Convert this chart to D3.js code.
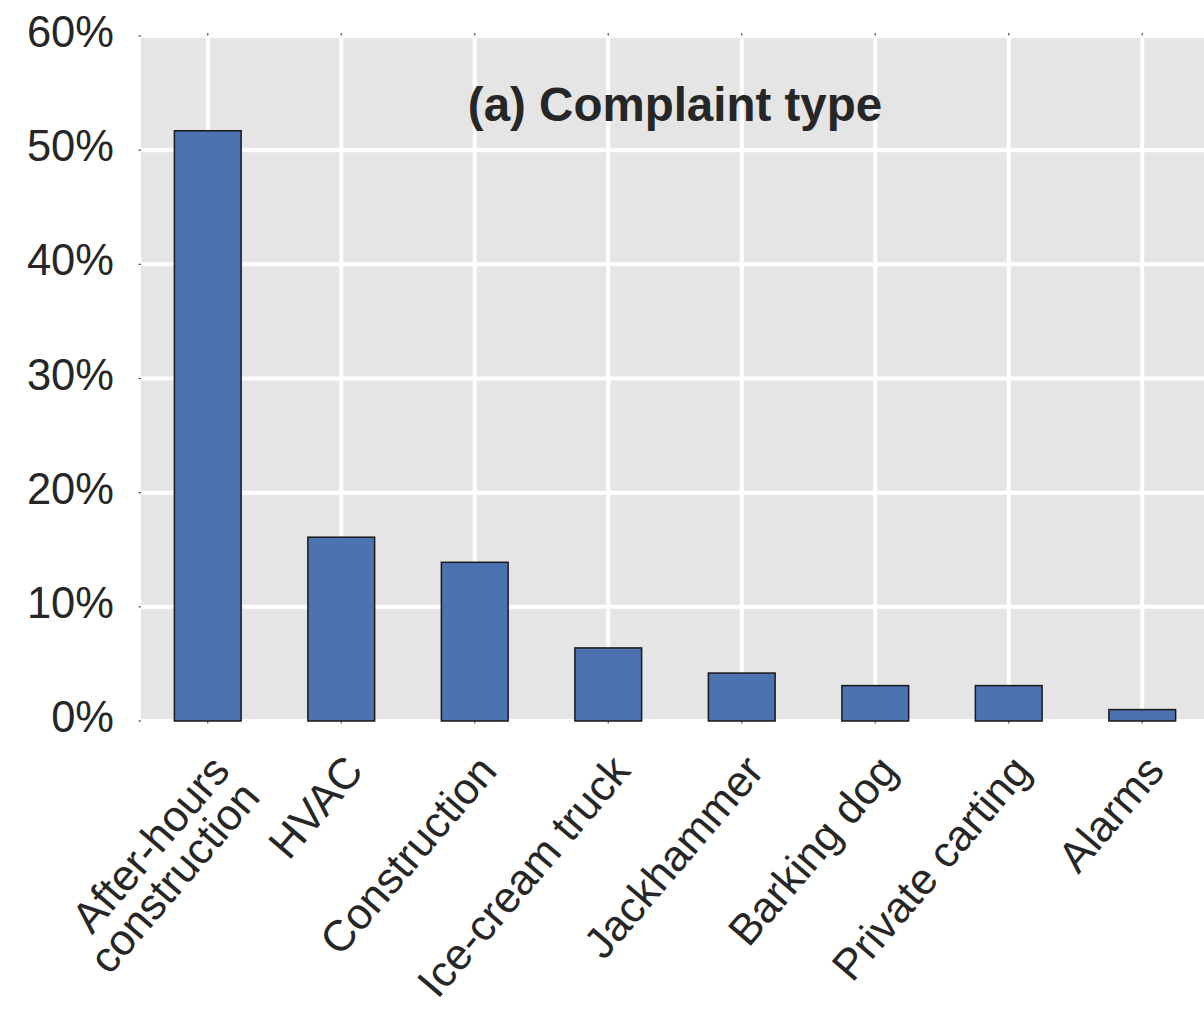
<!DOCTYPE html>
<html>
<head>
<meta charset="utf-8">
<script src="https://cdn.jsdelivr.net/npm/d3@7"></script>
<style>
  html, body { margin: 0; padding: 0; background: #ffffff; }
  svg { display: block; }
</style>
</head>
<body>
<svg id="chart" width="1204" height="1009"></svg>
<script>
// ---- data ----
const categories = ["After-hours\nconstruction", "HVAC", "Construction", "Ice-cream truck",
                    "Jackhammer", "Barking dog", "Private carting", "Alarms"];
const shares = [51.7, 16.1, 13.9, 6.4, 4.2, 3.1, 3.1, 1.0];
const yTicks = [0, 10, 20, 30, 40, 50, 60];
const yTickLabels = ["0%", "10%", "20%", "30%", "40%", "50%", "60%"];
const titleText = "(a) Complaint type";

// ---- layout ----
const plotL = 141, plotR = 1209, plotT = 36, plotB = 721;
const fontFam = "'Liberation Sans', Arial, Helvetica, sans-serif";
const textColor = "#262626";
const labelSize = 43.5;
const angle = 49.5;

const svg = d3.select("#chart");

const x = d3.scaleBand()
  .domain(categories)
  .range([plotL, plotR])
  .paddingInner(0.5)
  .paddingOuter(0.25);

const y = d3.scaleLinear().domain([0, 60]).range([plotB, plotT]);

// background
svg.append("rect")
  .attr("x", plotL).attr("y", plotT)
  .attr("width", plotR - plotL).attr("height", plotB - plotT)
  .attr("fill", "#e5e5e5");

// gridlines
const grid = svg.append("g");
grid.selectAll("line.h").data(yTicks).join("line")
  .attr("class", "h")
  .attr("x1", plotL).attr("x2", plotR)
  .attr("y1", d => y(d)).attr("y2", d => y(d))
  .attr("stroke", "#ffffff").attr("stroke-width", 4);
grid.selectAll("line.v").data(categories).join("line")
  .attr("class", "v")
  .attr("x1", d => x(d) + x.bandwidth() / 2).attr("x2", d => x(d) + x.bandwidth() / 2)
  .attr("y1", plotT).attr("y2", plotB)
  .attr("stroke", "#ffffff").attr("stroke-width", 4);

// tiny tick marks
const tk = svg.append("g").attr("stroke", "#555555").attr("stroke-width", 1.2);
tk.selectAll("line.yt").data(yTicks).join("line")
  .attr("x1", plotL - 2.5).attr("x2", plotL)
  .attr("y1", d => y(d)).attr("y2", d => y(d));
tk.selectAll("line.xb").data(categories).join("line")
  .attr("x1", d => x(d) + x.bandwidth() / 2).attr("x2", d => x(d) + x.bandwidth() / 2)
  .attr("y1", plotB).attr("y2", plotB + 2.5);
tk.selectAll("line.xt").data(categories).join("line")
  .attr("x1", d => x(d) + x.bandwidth() / 2).attr("x2", d => x(d) + x.bandwidth() / 2)
  .attr("y1", plotT - 3).attr("y2", plotT - 0.5);

// bars
svg.append("g").selectAll("rect").data(categories).join("rect")
  .attr("x", d => x(d))
  .attr("y", (d, i) => y(shares[i]))
  .attr("width", x.bandwidth())
  .attr("height", (d, i) => y(0) - y(shares[i]))
  .attr("fill", "#4c72b0")
  .attr("stroke", "#1a1a1a")
  .attr("stroke-width", 1.5);

// y labels
svg.append("g").selectAll("text").data(yTicks).join("text")
  .attr("x", 114)
  .attr("y", d => y(d) + 11)
  .attr("text-anchor", "end")
  .attr("font-family", fontFam)
  .attr("font-size", labelSize)
  .attr("fill", textColor)
  .text((d, i) => yTickLabels[i]);

// x labels (rotated)
const xl = svg.append("g");
categories.forEach(c => {
  const lines = c.split("\n");
  const cx = x(c) + x.bandwidth() / 2;
  lines.forEach((ln, j) => {
    const px = cx + 24 + j * 30;
    const py = plotB + 51 + j * 26;
    xl.append("text")
      .attr("transform", `translate(${px},${py}) rotate(${-angle})`)
      .attr("text-anchor", "end")
      .attr("font-family", fontFam)
      .attr("font-size", labelSize)
      .attr("fill", textColor)
      .text(ln);
  });
});

// title
svg.append("text")
  .attr("x", (plotL + plotR) / 2)
  .attr("y", 121)
  .attr("text-anchor", "middle")
  .attr("font-family", fontFam)
  .attr("font-size", 47.5)
  .attr("font-weight", "bold")
  .attr("fill", textColor)
  .text(titleText);
</script>
</body>
</html>
